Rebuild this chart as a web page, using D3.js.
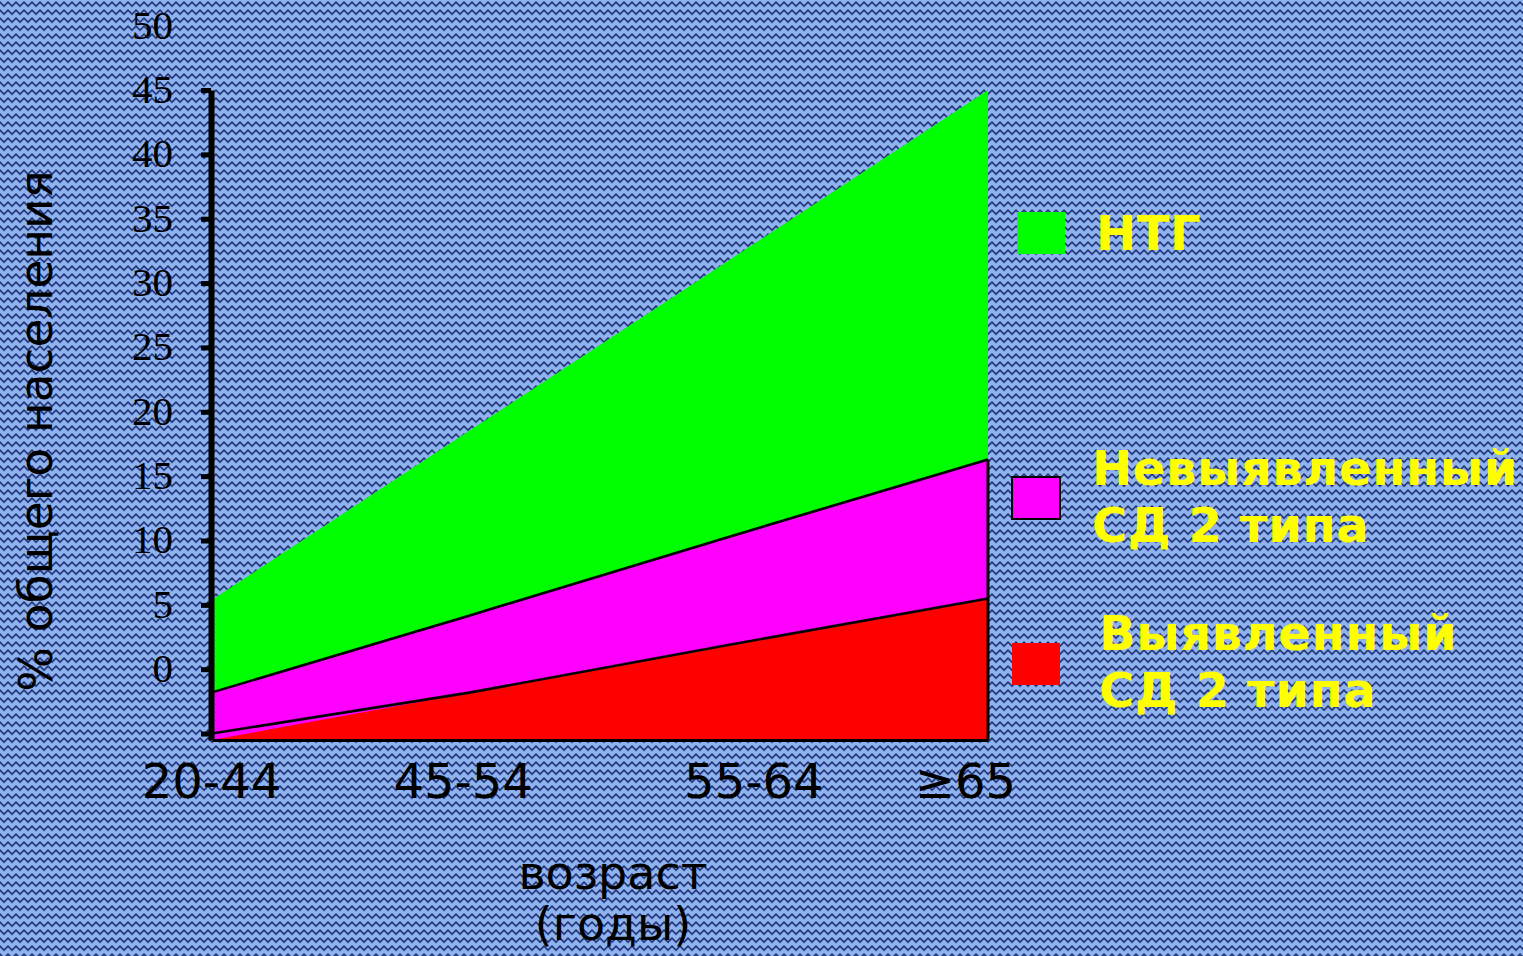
<!DOCTYPE html>
<html>
<head>
<meta charset="utf-8">
<script src="https://cdn.jsdelivr.net/npm/d3@7"></script>
<style>
  html, body { margin: 0; padding: 0; background: #8db1ec; }
  svg { display: block; }
</style>
</head>
<body>
<svg id="chart" width="1523" height="956"></svg>
<script>
// Age groups along the x axis
const ageGroups = ["20-44", "45-54", "55-64", "≥65"];

// Stacked layers, % of total population (bottom to top)
const detectedDM   = [0.0, 3.2, 6.9, 10.5];   // Выявленный СД 2 типа
const undetectedDM = [3.2, 6.0, 8.4, 10.8];   // Невыявленный СД 2 типа
const igt          = [7.2, 14.4, 21.5, 28.7]; // НТГ

// Y tick values and the printed tick labels
const yTicks = [0, 5, 10, 15, 20, 25, 30, 35, 40, 45, 50];
const yTickLabels = ["0", "5", "10", "15", "20", "25", "30", "35", "40", "45", "50"];

const layerKeys = ["detected", "undetected", "igt"];
const layerColors = { detected: "#ff0000", undetected: "#ff00ff", igt: "#00ff00" };

const legendItems = [
  { key: "igt", lines: ["НТГ"] },
  { key: "undetected", lines: ["Невыявленный", "СД 2 типа"] },
  { key: "detected", lines: ["Выявленный", "СД 2 типа"] }
];

const yFloor = -0.5; // axis floor slightly below the zero tick

const svg = d3.select("#chart");
const W = 1523, H = 956;

// Textured blue background
const defs = svg.append("defs");
const pat = defs.append("pattern")
  .attr("id", "weave").attr("patternUnits", "userSpaceOnUse")
  .attr("width", 8).attr("height", 8);
pat.append("rect").attr("width", 8).attr("height", 8).attr("fill", "#8fb3ee");
pat.append("path").attr("d", "M-4,7 L0,3 L4,7 L8,3 L12,7")
  .attr("fill", "none").attr("stroke", "#5b7fd0").attr("stroke-width", 1.2);
pat.append("path").attr("d", "M-4,6 L0,2 L4,6 L8,2 L12,6")
  .attr("fill", "none").attr("stroke", "#1f2e6c").attr("stroke-width", 1.3);
svg.append("rect").attr("width", W).attr("height", H).attr("fill", "url(#weave)");

// Scales
const x = d3.scalePoint().domain(ageGroups).range([212, 988]);
const y = d3.scaleLinear().domain([yFloor, 50]).range([740, 90]);

// Stack the layers
const rows = ageGroups.map((g, i) => ({
  group: g,
  detected: detectedDM[i],
  undetected: undetectedDM[i],
  igt: igt[i]
}));
const stacked = d3.stack().keys(layerKeys)(rows);

const area = d3.area()
  .x(d => x(d.data.group))
  .y0(d => d[0] === 0 ? y(yFloor) : y(d[0]))
  .y1(d => y(d[1]));

const plot = svg.append("g");
plot.selectAll("path.layer")
  .data(stacked)
  .join("path")
  .attr("class", "layer")
  .attr("fill", d => layerColors[d.key])
  .attr("d", area);

// Outlines of the two diabetes layers
const topLine = d3.line().x(d => x(d.data.group)).y(d => y(d[1]));
plot.selectAll("path.edge")
  .data(stacked.filter(s => s.key !== "igt"))
  .join("path")
  .attr("class", "edge")
  .attr("fill", "none")
  .attr("stroke", "#000")
  .attr("stroke-width", 2.6)
  .attr("d", topLine);

// Right edge of the diabetes layers
const lastTop = stacked[1][stacked[1].length - 1];
plot.append("line")
  .attr("x1", x(lastTop.data.group)).attr("x2", x(lastTop.data.group))
  .attr("y1", y(lastTop[1])).attr("y2", y(yFloor))
  .attr("stroke", "#000").attr("stroke-width", 3);

// X axis (baseline only, labels below)
const labelNudge = [-1, -8, 24, -23];
const xAxis = svg.append("g")
  .attr("transform", `translate(0,${y(yFloor)})`)
  .call(d3.axisBottom(x).tickSize(0).tickPadding(24));
xAxis.select(".domain").attr("stroke", "#000").attr("stroke-width", 3);
xAxis.selectAll(".tick text")
  .attr("font-family", "DejaVu Sans, sans-serif")
  .attr("font-size", 48)
  .attr("fill", "#000")
  .attr("dy", "0.71em")
  .attr("dx", (d, i) => labelNudge[i]);

// Y axis: line and tick marks
const yAxis = svg.append("g")
  .attr("transform", "translate(211,0)")
  .call(d3.axisLeft(y).tickValues(yTicks).tickSize(10).tickSizeOuter(0).tickFormat(""));
yAxis.select(".domain").attr("stroke", "#000").attr("stroke-width", 6);
yAxis.selectAll(".tick line").attr("stroke", "#000").attr("stroke-width", 5);

// Y tick labels (printed one step above their tick marks)
svg.append("g").selectAll("text")
  .data(yTicks)
  .join("text")
  .attr("x", 173)
  .attr("y", (d, i) => y(d + 5) - 1)
  .attr("text-anchor", "end")
  .attr("dominant-baseline", "central")
  .attr("font-family", "Liberation Serif, DejaVu Serif, serif")
  .attr("font-size", 41)
  .attr("fill", "#000")
  .text((d, i) => yTickLabels[i]);

// Axis titles
svg.append("text")
  .attr("transform", "translate(52,431) rotate(-90)")
  .attr("text-anchor", "middle")
  .attr("font-family", "DejaVu Sans, sans-serif")
  .attr("font-size", 47)
  .attr("fill", "#000")
  .text("% общего населения");

const xt = svg.append("text")
  .attr("text-anchor", "middle")
  .attr("font-family", "DejaVu Sans, sans-serif")
  .attr("font-size", 46)
  .attr("fill", "#000");
xt.append("tspan").attr("x", 613).attr("y", 889).text("возраст");
xt.append("tspan").attr("x", 613).attr("y", 940).text("(годы)");

// Legend
const legendLayout = [
  { sx: 1017, sy: 212, tx: 1096, ty: 250 },
  { sx: 1012, sy: 477, tx: 1092, ty: 485 },
  { sx: 1012, sy: 643, tx: 1099, ty: 650 }
];
const lg = svg.append("g").selectAll("g")
  .data(legendItems)
  .join("g");
lg.append("rect")
  .attr("x", (d, i) => legendLayout[i].sx)
  .attr("y", (d, i) => legendLayout[i].sy)
  .attr("width", 48).attr("height", 42)
  .attr("fill", d => layerColors[d.key])
  .attr("stroke", d => d.key === "undetected" ? "#000" : "none")
  .attr("stroke-width", 2);
lg.each(function(d, i) {
  const t = d3.select(this).append("text")
    .attr("font-family", "DejaVu Sans, sans-serif")
    .attr("font-weight", "bold")
    .attr("font-size", 48)
    .attr("letter-spacing", 0.6)
    .attr("fill", "#ffff00");
  d.lines.forEach((line, j) => {
    t.append("tspan")
      .attr("x", legendLayout[i].tx)
      .attr("y", legendLayout[i].ty + j * 57)
      .text(line);
  });
});
</script>
</body>
</html>
